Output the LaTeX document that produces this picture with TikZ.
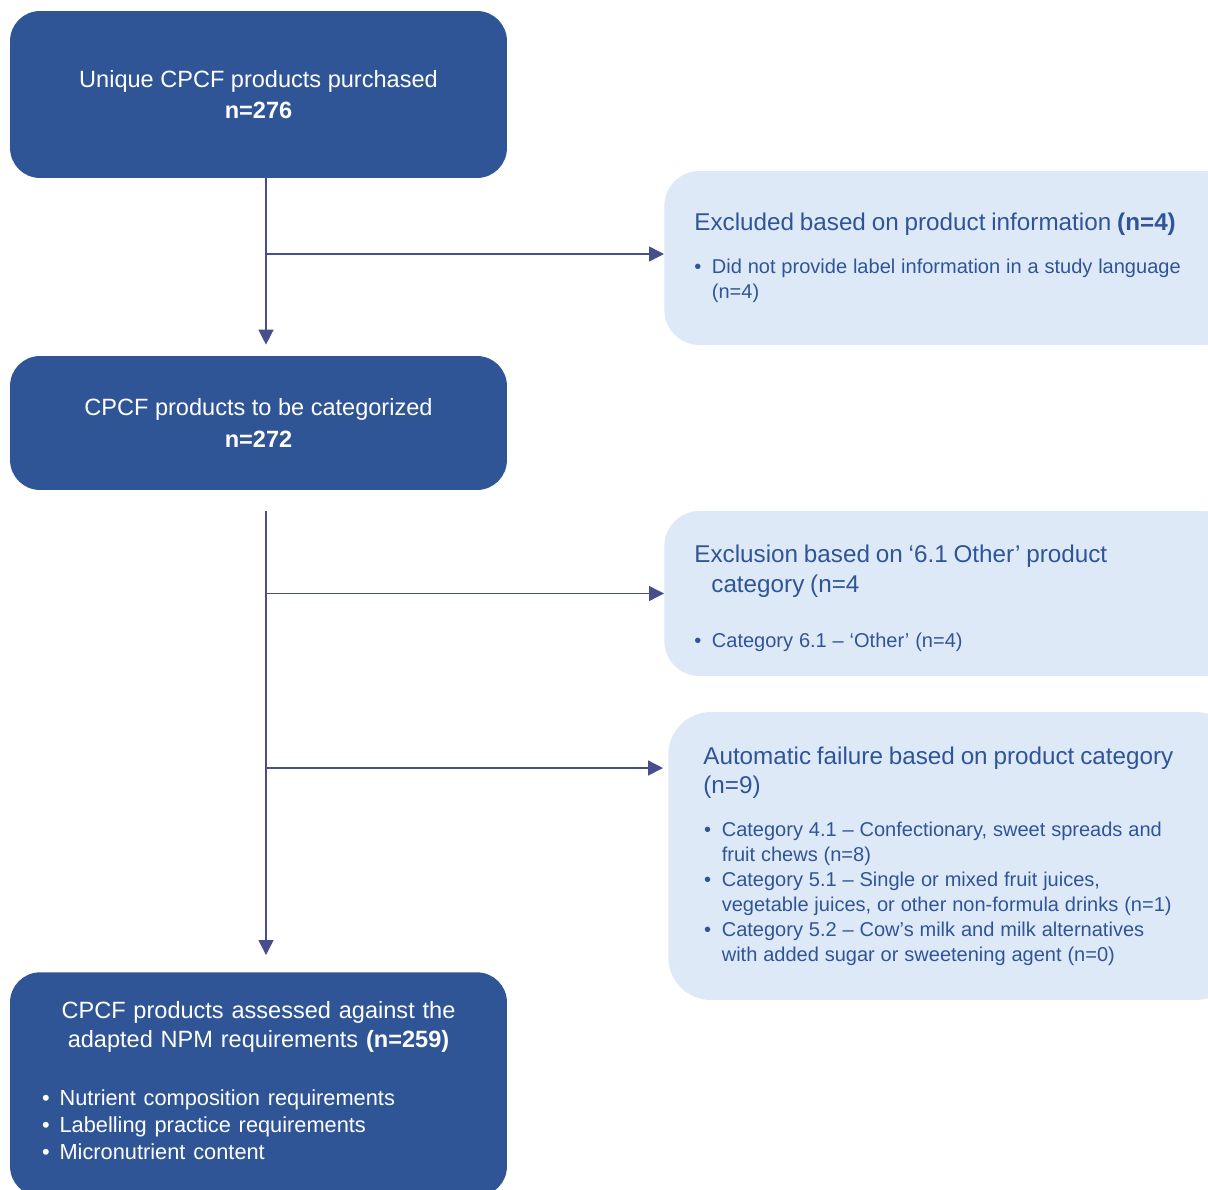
\documentclass[tikz,border=0pt]{standalone}
\usepackage{fontspec}
\setmainfont{Liberation Sans}
\usetikzlibrary{arrows.meta,positioning}
\definecolor{NavyBox} {RGB}{47, 85,151}
\definecolor{PaleBox} {RGB}{222,233,248}
\definecolor{FlowLine}{RGB}{72, 78,140}
\newcommand{\hdsize}{\fontsize{13.4}{16.8}\selectfont}
\newcommand{\exsize}{\fontsize{13.8}{16.6}\selectfont}
\newcommand{\itsize}{\fontsize{11.4}{14.2}\selectfont}
\newcommand{\bpt}[2][0pt]{\par\hangindent=\dimexpr10pt+#1\relax\hangafter=1\noindent\makebox[\dimexpr10pt+#1\relax][l]{\hspace*{#1}\textbullet}#2}
\tikzset{
  navybox/.style={rectangle,rounded corners=0.6cm,fill=NavyBox,text=white,minimum width=9.94cm,align=center,font=\hdsize},
  palebox/.style={rectangle,rounded corners=0.7cm,fill=PaleBox,text=NavyBox,minimum width=11.48cm,text width=10.28cm,inner xsep=0.6cm,align=left,anchor=west},
  flow/.style={draw=FlowLine,line width=0.8pt,-{Triangle[length=8.5pt,width=8.5pt]}}
}
\begin{document}
\begin{tikzpicture}[x=0.02cm,y=-0.02cm]
        \useasboundingbox (0,0) rectangle (1208,1190);
        \node[navybox,minimum height=3.34cm] (box1) at (258.5,94.5) {Unique CPCF products purchased\\[1pt]\textbf{n=276}};
        \node[navybox,minimum height=2.68cm] (box2) at (258.5,423) {CPCF products to be categorized\\[1.5pt]\textbf{n=272}};
        \node[navybox,minimum height=4.48cm,text width=8.66cm,inner xsep=0.64cm,align=left,anchor=north] (box3) at (258.5,972) {%
          {\centering\hdsize CPCF products assessed against the\\adapted NPM requirements \textbf{(n=259)}\par}
          \vspace{17.6pt}
          {\fontsize{12.4}{15.4}\selectfont\bpt{Nutrient composition requirements}\bpt{Labelling practice requirements}\bpt{Micronutrient content}\par}
          \vspace{4.5pt}};
        \node[palebox,minimum height=3.48cm] (ex1) at (664,258) {%
          {\exsize Excluded based on product information \textbf{(n=4)}\par}
          \vspace{10.3pt}
          {\itsize\bpt{Did not provide label information in a study language\newline(n=4)}\par}};
        \node[palebox,minimum height=3.3cm] (ex2) at (664,593.5) {%
          {\exsize Exclusion based on ‘6.1 Other’ product\\\hspace*{9.7pt}category (n=4\par}
          \vspace{17.6pt}
          {\itsize\bpt{Category 6.1 – ‘Other’ (n=4)}\par}
          \vspace{-6pt}};
        \node[palebox,rounded corners=0.85cm,minimum width=11.4cm,text width=10cm,inner xsep=0.7cm,minimum height=5.76cm] (ex3) at (668,856) {%
          {\exsize Automatic failure based on product category\\(n=9)\par}
          \vspace{10.3pt}
          {\itsize\bpt[0.5pt]{Category 4.1 – Confectionary, sweet spreads and\newline fruit chews (n=8)}%
          \bpt[0.5pt]{Category 5.1 – Single or mixed fruit juices,\newline vegetable juices, or other non-formula drinks (n=1)}%
          \bpt[0.5pt]{Category 5.2 – Cow’s milk and milk alternatives\newline with added sugar or sweetening agent (n=0)}\par}};
        \coordinate (spine) at ([xshift=0.15cm]box1.south);
        \coordinate (fork) at ([xshift=0.15cm]box2.south);
        \coordinate (ex1in) at ([yshift=0.08cm]ex1.west);
        \coordinate (ex3in) at ([yshift=1.76cm]ex3.west);
        \draw[flow,shorten >=0.22cm] (spine) -- (spine |- box2.north);
        \draw[flow] (spine |- ex1in) -- (ex1in);
        \draw[flow,shorten <=0.42cm,shorten >=0.34cm] (fork) -- (fork |- box3.north);
        \draw[flow] (fork |- ex2.west) -- (ex2.west);
        \draw[flow,shorten >=0.1cm] (fork |- ex3in) -- (ex3in);
      \end{tikzpicture}
\end{document}
